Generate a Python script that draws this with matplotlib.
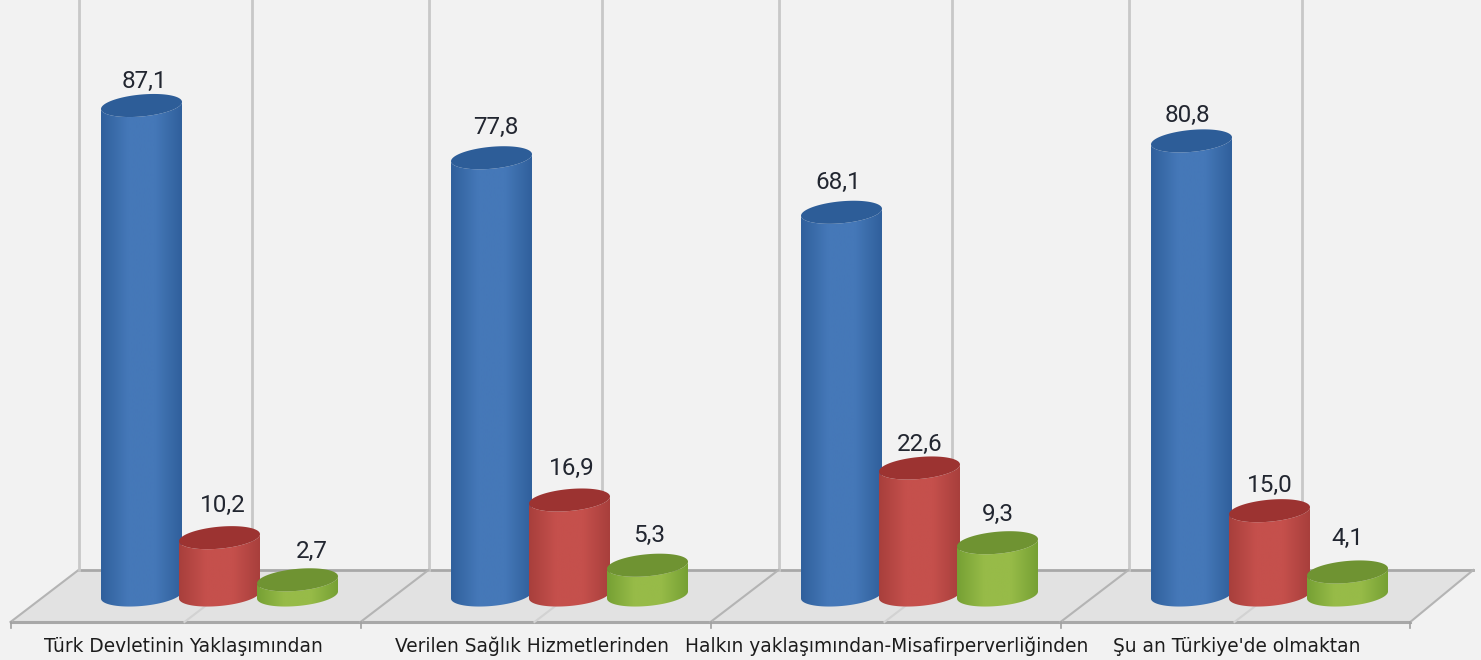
import numpy as np
from matplotlib import pyplot as plt
from matplotlib.colors import LinearSegmentedColormap
from matplotlib.patches import Polygon

categories = ['Türk Devletinin Yaklaşımından', 'Verilen Sağlık Hizmetlerinden',
              'Halkın yaklaşımından-Misafirperverliğinden', "Şu an Türkiye'de olmaktan"]
blue_vals = [87.1, 77.8, 68.1, 80.8]
red_vals = [10.2, 16.9, 22.6, 15.0]
green_vals = [2.7, 5.3, 9.3, 4.1]

# px per unit, px of x=0 / y=0
sx, x0 = 350.0, 141.5
sy, y0 = 5.62, 595.0
W, H = 1481, 660

bar_off = 78 / sx
a = 40.5 / sx    # half width
b = 11.0 / sy    # half height of the ellipse
shear = 3.5 / sy  # right side sits higher than left

fig = plt.figure(figsize=(W / 100, H / 100), dpi=100, facecolor='#f2f2f2')
ax = fig.add_axes([0, 0, 1, 1])
ax.set_facecolor('#f2f2f2')
ax.axis('off')

back = 25 / sy
front = -27 / sy
depth = 68 / sx
left = -0.18
right = 3.805
right_front = 3.625

# floor
ax.add_patch(Polygon([(left, back), (right, back), (right_front, front), (left - depth, front)],
                     closed=True, fc='#e2e2e2', ec='none', zorder=1))
ax.plot([left, right], [back, back], color='#a8a8a8', lw=2, zorder=2)
ax.plot([left - depth, right_front], [front, front], color='#a8a8a8', lw=2.2, zorder=2)
ax.plot([left, left - depth], [back, front], color='#b4b4b4', lw=1.5, zorder=2)
ax.plot([right, right_front], [back, front], color='#b4b4b4', lw=1.5, zorder=2)

# walls and floor dividers
for i in range(4):
    for k, off in enumerate([left, left + 0.497]):
        x = i + off
        ax.plot([x, x], [back, 110], color='#c8c8c8', lw=2, zorder=2)
        if i > 0 or k > 0:
            col = '#b4b4b4' if k == 0 else '#d2d2d2'
            ax.plot([x, x - depth], [back, front], color=col, lw=1.5, zorder=2)
    ax.plot([i + left - depth] * 2, [front, front - 1.0], color='#a0a0a0', lw=1.2, zorder=2)
ax.plot([right_front] * 2, [front, front - 1.0], color='#a0a0a0', lw=1.2, zorder=2)


def cylinder(cx, val, side, edge, top, z):
    t = np.linspace(0, np.pi, 60)
    # front edge of top ellipse, right to left, then bottom ellipse left to right
    tx = cx + a * np.cos(t)
    ty = val - b * np.sin(t) + shear * np.cos(t)
    bx = cx - a * np.cos(t)
    by = -b * np.sin(t) - shear * np.cos(t)
    body = Polygon(np.r_[np.c_[tx, ty], np.c_[bx, by]], closed=True, fc='none', ec='none', zorder=z)
    ax.add_patch(body)
    cmap = LinearSegmentedColormap.from_list('c', [edge, side, side, edge])
    im = ax.imshow(np.linspace(0, 1, 128)[None, :], cmap=cmap, aspect='auto', zorder=z,
                   extent=[cx - a, cx + a, -b - shear, val + b + shear], interpolation='bilinear')
    im.set_clip_path(body)
    t = np.linspace(0, 2 * np.pi, 120)
    ax.add_patch(Polygon(np.c_[cx + a * np.cos(t), val + b * np.sin(t) + shear * np.cos(t)],
                         closed=True, fc=top, ec='none', zorder=z + 0.1))


series = [
    (blue_vals, 0, '#4578b8', '#30609c', '#2d5d98', [3, 4, -3, -4]),
    (red_vals, 1, '#c5504c', '#a83f3c', '#9c3331', [3, 2, 0, 0]),
    (green_vals, 2, '#97bb48', '#76a034', '#6f9332', [14, 2, 0, 0]),
]
label_up = [[24, 30, 30, 25], [32, 32, 24, 25], [28, 30, 28, 33]]

for s, (vals, pos, side, edge, top, dx) in enumerate(series):
    for i, v in enumerate(vals):
        cx = i + pos * bar_off
        cylinder(cx, v, side, edge, top, 3 + s)
        ax.annotate(f'{v:.1f}'.replace('.', ','), (cx, v), xytext=(dx[i] * 0.72, label_up[s][i] * 0.72),
                    textcoords='offset points', ha='center', va='center', fontsize=17.5,
                    family='Roboto', color='#222630', zorder=8)

label_x = [183, 532, 887, 1237]
for lx, c in zip(label_x, categories):
    ax.text((lx - x0) / sx, (y0 - 646) / sy, c, ha='center', va='center', fontsize=13.4,
            color='#1c1c1c', family='DejaVu Sans', zorder=8)

ax.set_xlim(-x0 / sx, (W - x0) / sx)
ax.set_ylim((y0 - H) / sy, y0 / sy)
fig.savefig('out.png', dpi=100, facecolor=fig.get_facecolor())
